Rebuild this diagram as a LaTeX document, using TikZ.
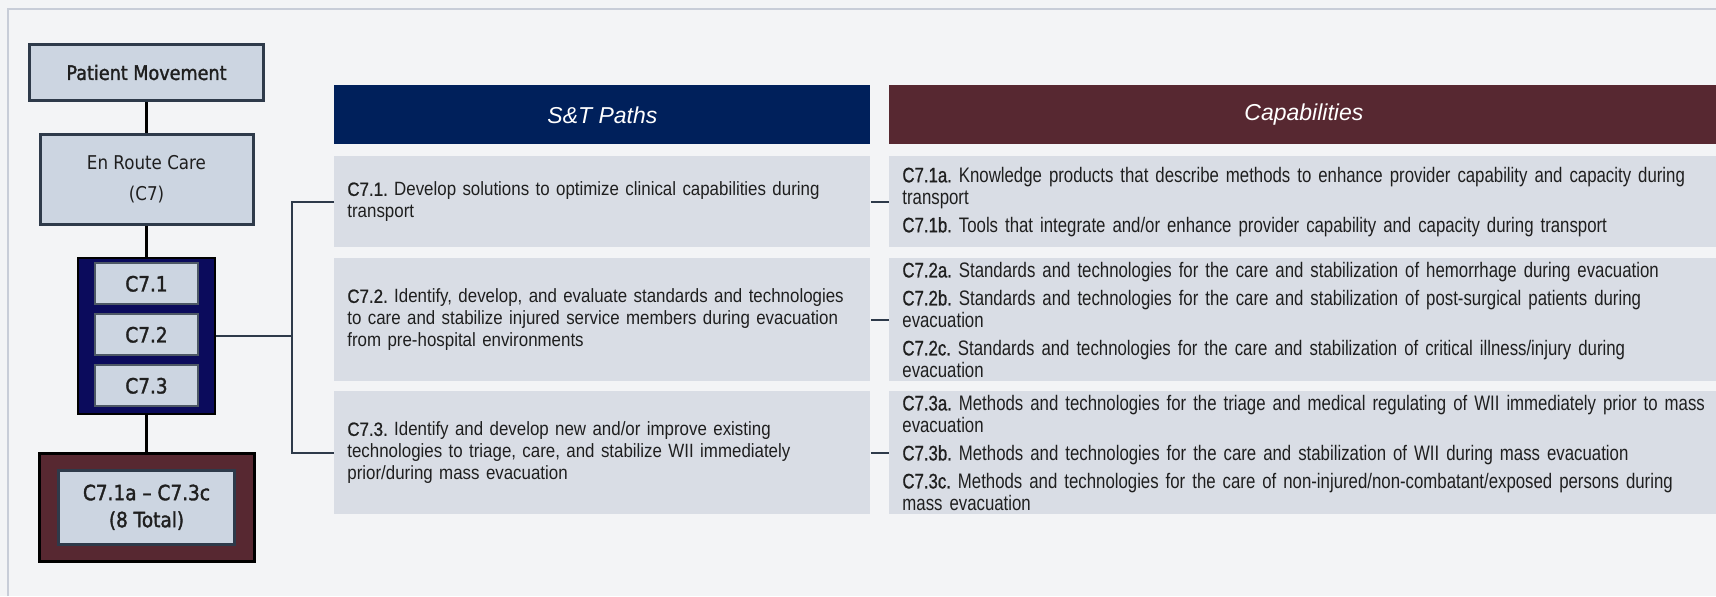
\documentclass[tikz,border=0pt]{standalone}
\usepackage{fontspec}
\setmainfont{Liberation Sans}
\newfontfamily\boxfont[FakeStretch=0.88]{DejaVu Sans}
\newfontfamily\boxfontmed[FakeStretch=0.88,FakeBold=1.6]{DejaVu Sans}
\newfontfamily\pathfont[FakeStretch=0.88,WordSpace=0.85]{Liberation Sans}
\newfontfamily\capfont[FakeStretch=0.8,WordSpace=0.8]{Liberation Sans}
\usetikzlibrary{positioning,calc}
\definecolor{PageGrey}{HTML}{F3F4F6}
\definecolor{FrameGrey}{HTML}{C8CDD8}
\definecolor{BoxBlue}{HTML}{CCD5E1}
\definecolor{EdgeSlate}{HTML}{2E3A4A}
\definecolor{DeepNavy}{HTML}{0B0B5C}
\definecolor{HeadNavy}{HTML}{00205B}
\definecolor{HeadMaroon}{HTML}{572831}
\definecolor{RowGrey}{HTML}{D9DDE5}
\definecolor{InkGrey}{HTML}{1F1F1F}
\newcommand{\idtag}[1]{{\addfontfeature{FakeBold=0.8}#1}}
\frenchspacing

\begin{document}
\begin{tikzpicture}[x=0.5pt, y=-0.5pt,
    lvlbox/.style={draw=EdgeSlate, line width=1.5pt, fill=BoxBlue, inner sep=0pt, align=center, text=InkGrey, font=\boxfont\fontsize{9.5}{15.5}\selectfont},
    subbox/.style={draw=EdgeSlate!85, line width=1pt, fill=BoxBlue, minimum width=51.5pt, minimum height=20.5pt, inner sep=0pt, text=InkGrey, font=\boxfontmed\fontsize{10.5}{12}\selectfont},
    headbar/.style={anchor=north west, minimum height=29.5pt, inner sep=0pt, text=white, font=\fontsize{11.5}{13}\selectfont\itshape},
    pathrow/.style={anchor=north west, fill=RowGrey, text width=255pt, inner xsep=6.5pt, inner ysep=0pt, align=left, text=InkGrey, font=\pathfont\fontsize{9.6}{11}\selectfont},
    caprow/.style={anchor=north west, fill=RowGrey, text width=401.5pt, inner xsep=6.5pt, inner ysep=0pt, align=left, text=InkGrey, font=\capfont\fontsize{10.5}{11}\selectfont},
    chainline/.style={draw=black, line width=1.5pt},
    link/.style={draw=EdgeSlate, line width=1pt}
  ]
    \fill[PageGrey] (0,0) rectangle (1716,596);
    \useasboundingbox (0,0) rectangle (1716,596);
    \draw[FrameGrey, line width=1pt] (8,596) -- (8,9) -- (1716,9);

    \node[lvlbox, minimum width=117pt, minimum height=28pt, font=\boxfontmed\fontsize{10}{12}\selectfont] (pm) at (146.5,72.5) {Patient Movement};
    \node[lvlbox, minimum width=106.5pt, minimum height=45pt, below=15.5pt of pm] (erc) {En Route Care\\(C7)};
    \node[draw=black, line width=1pt, fill=DeepNavy, minimum width=68.5pt, minimum height=78pt, below=15.4pt of erc] (grp) {};
    \node[subbox] (s2) at ($(grp.center)+(0,-1)$) {C7.2};
    \node[subbox, above=4pt of s2] (s1) {C7.1};
    \node[subbox, below=4pt of s2] (s3) {C7.3};
    \node[draw=black, line width=1.5pt, fill=HeadMaroon, minimum width=107.5pt, minimum height=54pt, below=18.5pt of grp] (tot) {};
    \node[lvlbox, line width=1.2pt, minimum width=88pt, minimum height=37pt, font=\boxfontmed\fontsize{10.5}{13.5}\selectfont] (totin) at (tot) {C7.1a – C7.3c\\(8 Total)};

    \draw[chainline] (pm) -- (erc);
    \draw[chainline] (erc) -- (grp);
    \draw[chainline] (grp) -- (tot);

    \node[headbar, fill=HeadNavy, minimum width=268pt] (hpath) at (334,85) {S\&T Paths};
    \node[headbar, fill=HeadMaroon, minimum width=414.5pt] (hcap) at (889,85) {Capabilities};

    \node[pathrow, minimum height=45.5pt] (p1) at (334,156) {\idtag{C7.1.} Develop solutions to optimize clinical capabilities during\\transport};
    \node[pathrow, minimum height=61.5pt] (p2) at (334,258) {\idtag{C7.2.} Identify, develop, and evaluate standards and technologies\\to care and stabilize injured service members during evacuation\\from pre-hospital environments};
    \node[pathrow, minimum height=61.5pt] (p3) at (334,391) {\idtag{C7.3.} Identify and develop new and/or improve existing\\technologies to triage, care, and stabilize WII immediately\\prior/during mass evacuation};

    \node[caprow, minimum height=45.5pt] (c1) at (889,156) {\idtag{C7.1a.} Knowledge products that describe methods to enhance provider capability and capacity during\\transport\\[3pt]\idtag{C7.1b.} Tools that integrate and/or enhance provider capability and capacity during transport};
    \node[caprow, minimum height=61.5pt] (c2) at (889,258) {\idtag{C7.2a.} Standards and technologies for the care and stabilization of hemorrhage during evacuation\\[3pt]\idtag{C7.2b.} Standards and technologies for the care and stabilization of post-surgical patients during\\evacuation\\[3pt]\idtag{C7.2c.} Standards and technologies for the care and stabilization of critical illness/injury during\\evacuation};
    \node[caprow, minimum height=61.5pt] (c3) at (889,391) {\idtag{C7.3a.} Methods and technologies for the triage and medical regulating of WII immediately prior to mass\\evacuation\\[3pt]\idtag{C7.3b.} Methods and technologies for the care and stabilization of WII during mass evacuation\\[3pt]\idtag{C7.3c.} Methods and technologies for the care of non-injured/non-combatant/exposed persons during\\mass evacuation};

    \coordinate (bus) at (292,335);
    \draw[link] (grp.east) -- (grp.east -| bus);
    \draw[link] (p1.west) -| (bus |- p3.west) -- (p3.west);
    \foreach \i in {1,2,3}
      \draw[link] (p\i.east) -- (c\i.west);
  \end{tikzpicture}
\end{document}
